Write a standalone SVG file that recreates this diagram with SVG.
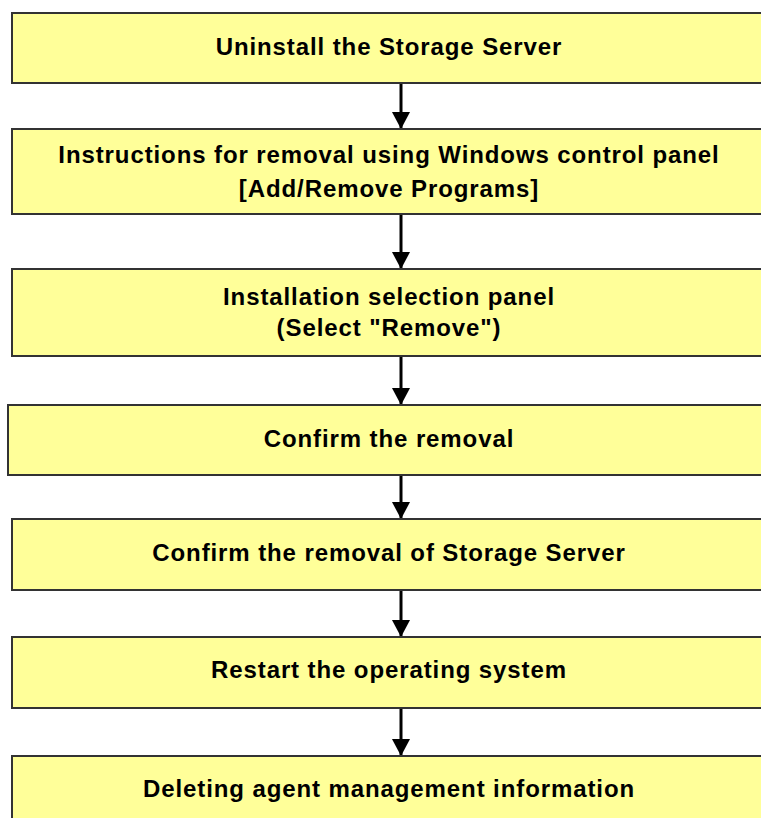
<svg xmlns="http://www.w3.org/2000/svg" width="761" height="818" viewBox="0 0 761 818">
  <style>
    .box { fill: #FFFF99; stroke: #333333; stroke-width: 2; }
    .lbl { font-family: "Liberation Sans", Arial, sans-serif; font-weight: bold; font-size: 24px; letter-spacing: 0.9px; fill: #000000; text-anchor: middle; }
    .conn { stroke: #000000; stroke-width: 3; fill: none; marker-end: url(#arrow); }
  </style>
  <defs>
    <marker id="arrow" markerUnits="userSpaceOnUse" markerWidth="17" markerHeight="18" viewBox="0 0 17 18" refX="16" refY="9" orient="auto">
      <path d="M0,0 L17,9 L0,18 Z" fill="#000000"/>
    </marker>
  </defs>
  <rect width="761" height="818" fill="#FFFFFF"/>
  <g id="connectors">
    <line class="conn" x1="401" y1="84" x2="401" y2="128"/>
    <line class="conn" x1="401" y1="215" x2="401" y2="268"/>
    <line class="conn" x1="401" y1="357" x2="401" y2="404"/>
    <line class="conn" x1="401" y1="476" x2="401" y2="518"/>
    <line class="conn" x1="401" y1="591" x2="401" y2="636"/>
    <line class="conn" x1="401" y1="709" x2="401" y2="755"/>
  </g>
  <g id="n1">
    <rect class="box" x="12" y="13" width="760" height="70"/>
    <text class="lbl" x="389" y="55">Uninstall the Storage Server</text>
  </g>
  <g id="n2">
    <rect class="box" x="12" y="129" width="760" height="85"/>
    <text class="lbl" x="389" y="163">Instructions for removal using Windows control panel</text>
    <text class="lbl" x="389" y="197">[Add/Remove Programs]</text>
  </g>
  <g id="n3">
    <rect class="box" x="12" y="269" width="760" height="87"/>
    <text class="lbl" x="389" y="305">Installation selection panel</text>
    <text class="lbl" x="389" y="336">(Select "Remove")</text>
  </g>
  <g id="n4">
    <rect class="box" x="8" y="405" width="764" height="70"/>
    <text class="lbl" x="389" y="447">Confirm the removal</text>
  </g>
  <g id="n5">
    <rect class="box" x="12" y="519" width="760" height="71"/>
    <text class="lbl" x="389" y="561">Confirm the removal of Storage Server</text>
  </g>
  <g id="n6">
    <rect class="box" x="12" y="637" width="760" height="71"/>
    <text class="lbl" x="389" y="678">Restart the operating system</text>
  </g>
  <g id="n7">
    <rect class="box" x="12" y="756" width="760" height="80"/>
    <text class="lbl" x="389" y="797">Deleting agent management information</text>
  </g>
</svg>
